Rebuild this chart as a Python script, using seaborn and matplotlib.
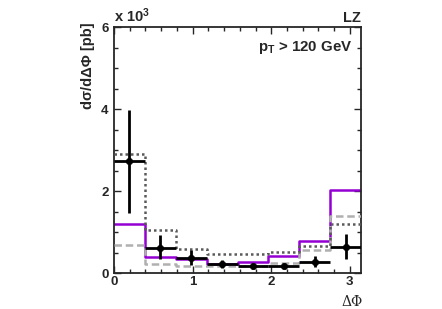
import numpy as np
import pandas as pd
import matplotlib
matplotlib.use("Agg")
import matplotlib.pyplot as plt
from matplotlib.ticker import MultipleLocator
import seaborn as sns

# ---- data (values in units of 10^3 pb) ----
edges = list(np.linspace(0, np.pi, 9))
data_y = [2.73, 0.62, 0.37, 0.21, 0.17, 0.17, 0.28, 0.64]
data_err_up = [1.25, 0.30, 0.18, 0.11, 0.08, 0.08, 0.14, 0.30]
data_err_dn = [1.27, 0.29, 0.18, 0.09, 0.08, 0.08, 0.13, 0.29]
purple_y = [1.20, 0.39, 0.33, 0.23, 0.27, 0.41, 0.77, 2.03]
dashed_y = [0.69, 0.23, 0.16, 0.17, 0.17, 0.24, 0.55, 1.39]
dotted_y = [2.90, 1.04, 0.58, 0.47, 0.47, 0.52, 0.67, 1.19]

sns.set_style("ticks")
plt.rcParams['font.family'] = ['Liberation Sans', 'DejaVu Sans']
plt.rcParams['mathtext.fontset'] = 'custom'
plt.rcParams['mathtext.bf'] = 'Liberation Sans:bold'
plt.rcParams['mathtext.rm'] = 'Liberation Sans:bold'
plt.rcParams['mathtext.default'] = 'bf'

fig = plt.figure(figsize=(4.42, 3.09), dpi=100)
ax = fig.add_axes([114/442, 1-273/309, (361-114)/442, (273-27)/309])

e = np.array(edges)
centers = 0.5 * (e[:-1] + e[1:])
halfw = 0.5 * (e[1:] - e[:-1])

def step_df(vals):
    return pd.DataFrame({"x": e, "y": list(vals) + [vals[-1]]})

sns.lineplot(data=step_df(purple_y), x="x", y="y", drawstyle="steps-post",
             estimator=None, color="#9400d3", lw=1.8, ax=ax, zorder=2)
sns.lineplot(data=step_df(dashed_y), x="x", y="y", drawstyle="steps-post",
             estimator=None, color="#b0b0b0", lw=1.8, ls=(0, (3, 1.5)), ax=ax, zorder=3)
sns.lineplot(data=step_df(dotted_y), x="x", y="y", drawstyle="steps-post",
             estimator=None, color="#5a5a5a", lw=1.8, ls=(0, (1, 1.2)), ax=ax, zorder=4)

ax.errorbar(centers, data_y, xerr=halfw, yerr=[data_err_dn, data_err_up],
            fmt="none", ecolor="black", elinewidth=2.0, capsize=0, zorder=5)
sns.scatterplot(x=centers, y=data_y, color="black", s=22, edgecolor="black",
                ax=ax, zorder=6)

ax.set_xlim(0, np.pi)
ax.set_ylim(0, 6)
ax.set_xlabel("")
ax.set_ylabel("")
ax.xaxis.set_major_locator(MultipleLocator(1))
ax.xaxis.set_minor_locator(MultipleLocator(0.2))
ax.yaxis.set_major_locator(MultipleLocator(2))
ax.yaxis.set_minor_locator(MultipleLocator(0.5))
ax.tick_params(which="both", direction="in", top=True, right=True, width=1.0,
               labelsize=9.5)
ax.tick_params(axis="x", pad=2.5)
ax.tick_params(axis="y", pad=4)
ax.tick_params(which="major", length=5)
ax.tick_params(which="minor", length=3)
for lab in ax.get_xticklabels() + ax.get_yticklabels():
    lab.set_fontweight("bold")
for s in ax.spines.values():
    s.set_linewidth(1.3)
    s.set_visible(True)

ax.text(0.0, 1.008, r"x 10$^{3}$", transform=ax.transAxes, ha="left", va="bottom",
        fontsize=10.5, fontweight="bold")
ax.text(1.0, 1.008, "LZ", transform=ax.transAxes, ha="right", va="bottom",
        fontsize=10.5, fontweight="bold")
ax.text(0.965, 0.915, r"p$_{T}$ > 120 GeV", transform=ax.transAxes, ha="right",
        va="center", fontsize=10.8, fontweight="bold")
fig.text(88/442, 1-22/309, "dσ/dΔΦ [pb]", rotation=90, ha="center", va="top",
         fontsize=10.5, fontweight="bold")
fig.text(363/442, 1-302/309, "ΔΦ", ha="right", va="center", fontsize=10,
         family=["DejaVu Serif"])

fig.savefig("out.png", dpi=100)
